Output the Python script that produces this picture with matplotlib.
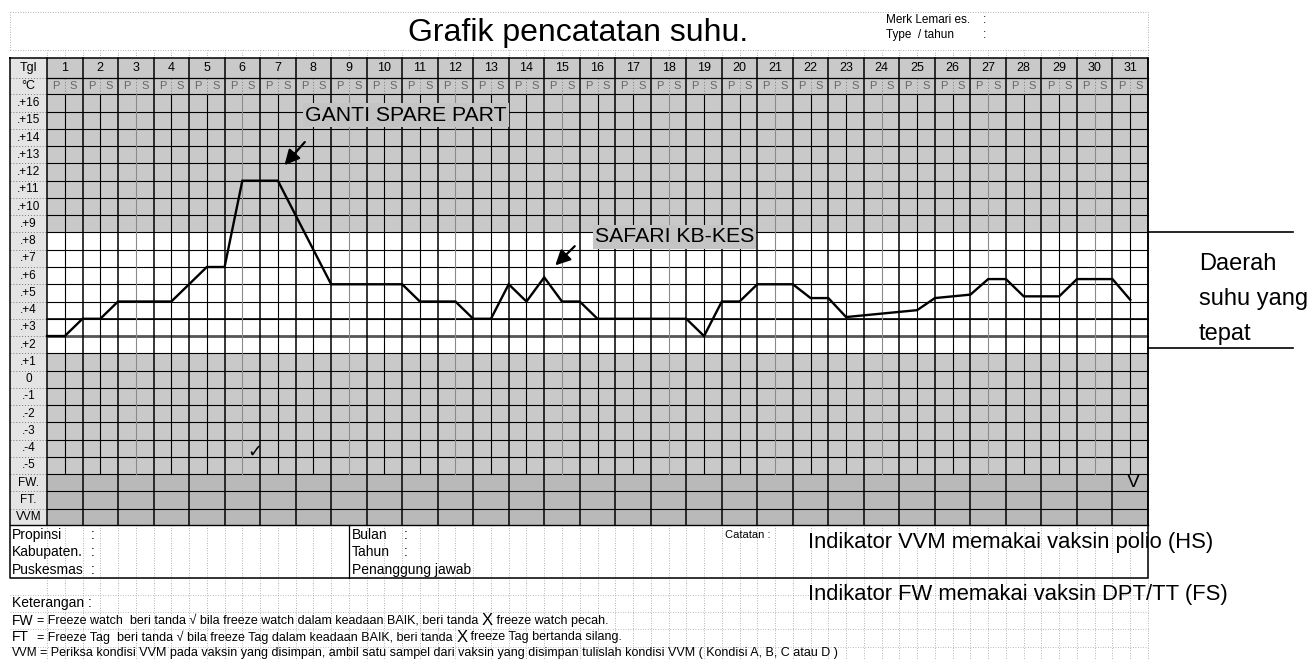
import numpy as np
import matplotlib.pyplot as plt
from matplotlib.patches import Rectangle

plt.rcParams['font.family'] = ['Liberation Sans', 'DejaVu Sans']

# chart data (x = half-day column index, 2 per day: P / S)
days = list(range(1, 32))
halves = ['P', 'S']
row_levels = list(range(16, -6, -1))
row_labels = ['.+%d' % v if v > 0 else ('0' if v == 0 else '.%d' % v) for v in row_levels]
extra_rows = ['FW.', 'FT.', 'VVM']
x_pts = [0, 1, 2, 3, 4, 7, 9, 10, 11, 13, 16, 20, 21, 23, 24, 25, 26, 27, 28, 29,
         30, 31, 36, 37, 38, 39, 40, 42, 43, 44, 45, 49, 50, 52, 53, 54, 55, 57,
         58, 60, 61]
temps = [3, 3, 4, 4, 5, 5, 7, 7, 12, 12, 6, 6, 5, 5, 4, 4, 6, 5, 6.4, 5,
         5, 4, 4, 3, 5, 5, 6, 6, 5.2, 5.2, 4.1, 4.5, 5.2, 5.4, 6.3, 6.3, 5.3, 5.3,
         6.3, 6.3, 5.1]

# layout (data units: 1 x-unit = half day column, 1 y-unit = one degree row)
ncol = 2 * len(days)
lab_left = -2.08
hdr1_top = 17.96
hdr2_top = 19.09
low_bot = -7.95
box_bot = -11.0
ok_lo, ok_hi = 2, 9
shade = '#c9c9c9'
shade_dark = '#b9b9b9'
dot = (0, (1, 2))

fig = plt.figure(figsize=(13.14, 6.6), dpi=100)
ax = fig.add_axes([0, 0, 1, 1])
ax.set_xlim(-2.647, 71.348)
ax.set_ylim(-15.77, 22.47)
ax.axis('off')

# page gridlines (spreadsheet style)
for i in range(ncol + 1):
    ax.plot([i, i], [hdr2_top, 19.57], color='#999999', lw=0.6, ls=dot, zorder=0)
    ax.plot([i, i], [low_bot, -15.77], color='#9a9a9a', lw=0.6, ls=dot, zorder=0)
for yy in [19.57, 21.76]:
    ax.plot([lab_left, ncol], [yy, yy], color='#999999', lw=0.6, ls=dot, zorder=0)
for yy in range(-15, -10):
    ax.plot([lab_left, ncol], [yy, yy], color='#a5a5a5', lw=0.6, ls=dot, zorder=0)
for xx in [lab_left, ncol]:
    ax.plot([xx, xx], [19.57, 21.76], color='#999999', lw=0.6, ls=dot, zorder=0)

# shaded blocks
ax.add_patch(Rectangle((0, 17), ncol, hdr2_top - 17, fc=shade, ec='none', zorder=1))
ax.add_patch(Rectangle((0, ok_hi), ncol, 17 - ok_hi, fc=shade, ec='none', zorder=1))
ax.add_patch(Rectangle((0, -5), ncol, ok_lo + 5, fc=shade, ec='none', zorder=1))
ax.add_patch(Rectangle((0, low_bot), ncol, -5 - low_bot, fc=shade_dark, ec='none', zorder=1))
ax.add_patch(Rectangle((lab_left, low_bot), -lab_left, hdr2_top - low_bot,
                       fc='#e4e4e4', ec='none', zorder=1))

# horizontal lines
h_lines = list(range(-5, 18)) + [-6, -7]
for yy in h_lines:
    ax.plot([0, ncol], [yy, yy], color='black', lw=0.8, zorder=2)
    ax.plot([lab_left, 0], [yy, yy], color='#777777', lw=0.7, ls=dot, zorder=2)
ax.plot([lab_left, 0], [hdr1_top, hdr1_top], color='#777777', lw=0.7, ls=dot, zorder=2)
ax.plot([0, ncol], [hdr1_top, hdr1_top], color='black', lw=0.9, zorder=2)
ax.plot([0, ncol], [3, 3], color='#555555', lw=2.0, zorder=2, solid_capstyle='butt')
ax.plot([0, ncol], [4, 4], color='black', lw=1.2, zorder=2)

# vertical lines
for i in range(ncol + 1):
    if i % 2 == 0:
        ax.plot([i, i], [low_bot, hdr2_top], color='black', lw=1.1, zorder=2)
    else:
        c = '#8a8a8a' if i % 6 == 5 else 'black'
        ax.plot([i, i], [-5, 17], color=c, lw=0.8, zorder=2)
        ax.plot([i, i], [17, hdr1_top], color='#777777', lw=0.7, ls=dot, zorder=2)

# outer frame incl. identity box
ax.plot([lab_left, ncol, ncol, lab_left, lab_left],
        [hdr2_top, hdr2_top, box_bot, box_bot, hdr2_top], color='black', lw=1.1, zorder=3)
ax.plot([lab_left, ncol], [low_bot, low_bot], color='black', lw=1.0, zorder=3)
ax.plot([17, 17], [box_bot, low_bot], color='black', lw=0.9, zorder=3)

# header texts
ax.text(lab_left / 2, (hdr1_top + hdr2_top) / 2, 'Tgl', ha='center', va='center', fontsize=9, zorder=4)
ax.text(lab_left / 2, (17 + hdr1_top) / 2, '°C', ha='center', va='center', fontsize=9, zorder=4)
for k, d in enumerate(days):
    ax.text(2 * k + 1, (hdr1_top + hdr2_top) / 2, str(d), ha='center', va='center',
            fontsize=9, zorder=4)
    for j, h in enumerate(halves):
        ax.text(2 * k + j + 0.5, (17 + hdr1_top) / 2, h, ha='center', va='center',
                fontsize=8, color='#666666', zorder=4)
for v, lab in zip(row_levels, row_labels):
    ax.text(lab_left / 2, v + 0.5, lab, ha='center', va='center', fontsize=8.5, zorder=4)
for k, lab in enumerate(extra_rows):
    ax.text(lab_left / 2, -5.5 - k, lab, ha='center', va='center', fontsize=8.5, zorder=4)

# temperature trace
ax.plot(x_pts, temps, color='black', lw=1.7, zorder=5, solid_joinstyle='miter')

# annotations
ax.text(14.53, 15.8, 'GANTI SPARE PART', fontsize=15.3, va='center', ha='left', zorder=6,
        bbox=dict(boxstyle='square,pad=0.1', fc='#c4c4c4', ec='none'))
ax.annotate('', xy=(13.27, 12.78), xytext=(14.62, 14.36), zorder=6,
            arrowprops=dict(arrowstyle='-|>,head_length=0.9,head_width=0.45', color='black', lw=1.6))
ax.text(30.86, 8.74, 'SAFARI KB-KES', fontsize=15.3, va='center', ha='left', zorder=6,
        bbox=dict(boxstyle='square,pad=0.1', fc='#c4c4c4', ec='none'))
ax.annotate('', xy=(28.51, 6.98), xytext=(29.83, 8.32), zorder=6,
            arrowprops=dict(arrowstyle='-|>,head_length=0.9,head_width=0.45', color='black', lw=1.6))
ax.text(11.71, -3.72, '✓', family='DejaVu Sans', fontsize=13, ha='center', va='center', zorder=6)
ax.text(61.2, -5.5, 'V', fontsize=14, ha='center', va='center', zorder=6)

# safe range marker on the right
for yy in [ok_hi, 2.32]:
    ax.plot([ncol, 70.17], [yy, yy], color='black', lw=1.2, zorder=3)
for k, s in enumerate(['Daerah', 'suhu yang', 'tepat']):
    ax.text(64.87, 7.2 - 2.05 * k, s, fontsize=17, ha='left', va='center')

# title block
ax.text(29.93, 20.57, 'Grafik pencatatan suhu.', fontsize=23, ha='center', va='center')
ax.text(47.25, 21.32, 'Merk Lemari es.', fontsize=8.5, va='center')
ax.text(47.25, 20.44, 'Type  / tahun', fontsize=8.5, va='center')
ax.text(52.7, 21.32, ':', fontsize=8.5, va='center')
ax.text(52.7, 20.44, ':', fontsize=8.5, va='center')

# identity box
for k, (a, b) in enumerate([('Propinsi', ':'), ('Kabupaten.', ':'), ('Puskesmas', ':')]):
    yy = -8.5 - 1.02 * k
    ax.text(-1.97, yy, a, fontsize=10, va='center')
    ax.text(2.45, yy, b, fontsize=10, va='center')
for k, (a, b) in enumerate([('Bulan', ':'), ('Tahun', ':'), ('Penanggung jawab', '')]):
    yy = -8.5 - 1.02 * k
    ax.text(17.15, yy, a, fontsize=10, va='center')
    ax.text(20.1, yy, b, fontsize=10, va='center')
ax.text(38.2, -8.5, 'Catatan :', fontsize=8, va='center')
ax.text(42.85, -8.97, 'Indikator VVM memakai vaksin polio (HS)', fontsize=15.8, va='center')
ax.text(42.85, -12.0, 'Indikator FW memakai vaksin DPT/TT (FS)', fontsize=15.8, va='center')

# legend notes (the X mark is printed larger, chained after the previous run)
ax.text(-1.97, -12.47, 'Keterangan :', fontsize=10, va='center')
notes = [('FW', 10, -0.56,
          ['= Freeze watch  beri tanda \u221a bila freeze watch dalam keadaan BAIK, beri tanda ', 'X',
           ' freeze watch pecah.']),
         ('FT', 10, -0.56,
          ['= Freeze Tag  beri tanda \u221a bila freeze Tag dalam keadaan BAIK, beri tanda ', 'X',
           ' freeze Tag bertanda silang.']),
         ('VVM', 8.5, -0.38,
          ['= Periksa kondisi VVM pada vaksin yang disimpan, ambil satu sampel dari vaksin yang '
           'disimpan tulislah kondisi VVM ( Kondisi A, B, C atau D )'])]
for k, (a, fs, x0, parts) in enumerate(notes):
    yy = -13.51 - 0.93 * k
    ax.text(-1.97, yy, a, fontsize=fs, va='center')
    t = ax.text(x0, yy, parts[0], fontsize=9, va='center')
    for p in parts[1:]:
        t = ax.annotate(p, xy=(1, 0.5), xycoords=t, va='center', ha='left',
                        fontsize=12 if p == 'X' else 9)

fig.savefig('out.png', dpi=100, facecolor='white')
